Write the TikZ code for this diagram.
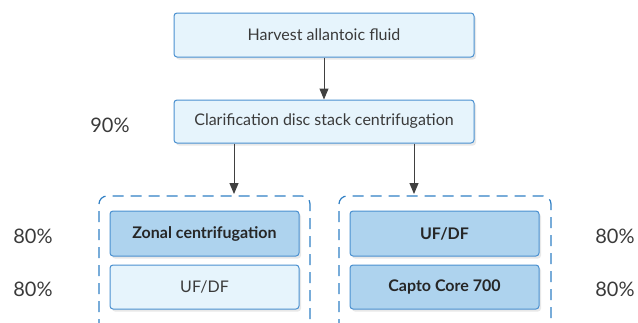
\documentclass[tikz,border=0pt]{standalone}
\usepackage{fontspec}
\setmainfont{Lato}
\usetikzlibrary{shadows, arrows.meta}

\definecolor{boxline}{HTML}{4A90D0}
\definecolor{lightfill}{HTML}{E6F4FC}
\definecolor{darkfill}{HTML}{AED3EE}
\definecolor{dashline}{HTML}{2F7FC4}
\definecolor{txt}{HTML}{3A3A3A}

\tikzset{
  stepbox/.style={draw=boxline, line width=1pt, rounded corners=3pt, minimum height=44pt,
    text=txt, font=\fontsize{16}{18}\selectfont,
    drop shadow={shadow xshift=2pt, shadow yshift=-2.5pt, opacity=0.18}},
  lightbox/.style={stepbox, fill=lightfill},
  darkbox/.style={stepbox, fill=darkfill, font=\fontsize{16}{18}\selectfont\bfseries, text=black!85},
  pct/.style={text=txt, font=\fontsize{20}{22}\selectfont},
  arr/.style={-{Triangle[length=11pt, width=9pt]}, line width=1pt, black!75},
}

\begin{document}
\begin{tikzpicture}[x=1pt, y=-1pt]
\useasboundingbox (0,0) rectangle (638,322);
% dashed groups
\draw[dashline, line width=1.2pt, dash pattern=on 11pt off 7pt, rounded corners=8pt]
  (99,330) -- (99,196) -- (310,196) -- (310,330);
\draw[dashline, line width=1.2pt, dash pattern=on 11pt off 7pt, rounded corners=8pt]
  (339,330) -- (339,196) -- (551,196) -- (551,330);
% process steps
\node[lightbox, minimum width=300pt] (harvest) at (324,35) {Harvest allantoic fluid};
\node[lightbox, minimum width=300pt, minimum height=43pt] (clarif) at (324,121.5) {Clarification disc stack centrifugation};
\node[darkbox, minimum width=189pt, minimum height=45pt] (zonal) at (204.5,233.5) {Zonal centrifugation};
\node[lightbox, minimum width=189pt] (ufdfa) at (204.5,287) {UF/DF};
\node[darkbox, minimum width=189pt, minimum height=45pt] (ufdfb) at (444.5,233.5) {UF/DF};
\node[darkbox, minimum width=189pt] (capto) at (444.5,287) {Capto Core 700};
% recoveries
\node[pct] (p90) at (110,125) {90\%};
\node[pct] (p80a) at (33,236) {80\%};
\node[pct] (p80b) at (33,289) {80\%};
\node[pct] (p80c) at (615,236) {80\%};
\node[pct] (p80d) at (615,289) {80\%};
% flow
\coordinate (inL) at (234,194);
\coordinate (inR) at (414,194);
\draw[arr] (harvest) -- (clarif);
\draw[arr] (clarif.south -| inL) -- (inL);
\draw[arr] (clarif.south -| inR) -- (inR);
\end{tikzpicture}
\end{document}
